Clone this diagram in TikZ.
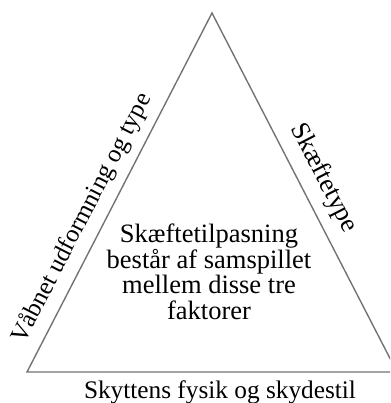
\documentclass[tikz,border=0pt]{standalone}
\usepackage{fontspec}
\setmainfont{Liberation Serif}
\begin{document}
\begin{tikzpicture}[x=1pt,y=-1pt,
  side/.style={draw=black!55, line width=1.4pt, line join=miter},
  lbl/.style={inner sep=0pt, text=black}]
\clip (0,0) rectangle (390,403);
\coordinate (A) at (212,13);
\coordinate (B) at (27,372);
\coordinate (C) at (397,372);
\draw[side] (A) -- (B) -- (C) -- cycle;
\node[lbl, align=center, font=\fontsize{26.5}{25.5}\selectfont] (mid) at (209,272) {Skæftetilpasning\\består af samspillet\\mellem disse tre\\faktorer};
\node[lbl, rotate=62.7, anchor=base, font=\fontsize{25}{26}\selectfont] (left) at (87.9,221.2) {Våbnet udformning og type};
\node[lbl, rotate=-62.7, anchor=base, font=\fontsize{26.5}{28}\selectfont] (right) at (317.8,181.2) {Skæftetype};
\node[lbl, anchor=base, font=\fontsize{25.3}{26}\selectfont] (bottom) at (220,398) {Skyttens fysik og skydestil};
\end{tikzpicture}
\end{document}
